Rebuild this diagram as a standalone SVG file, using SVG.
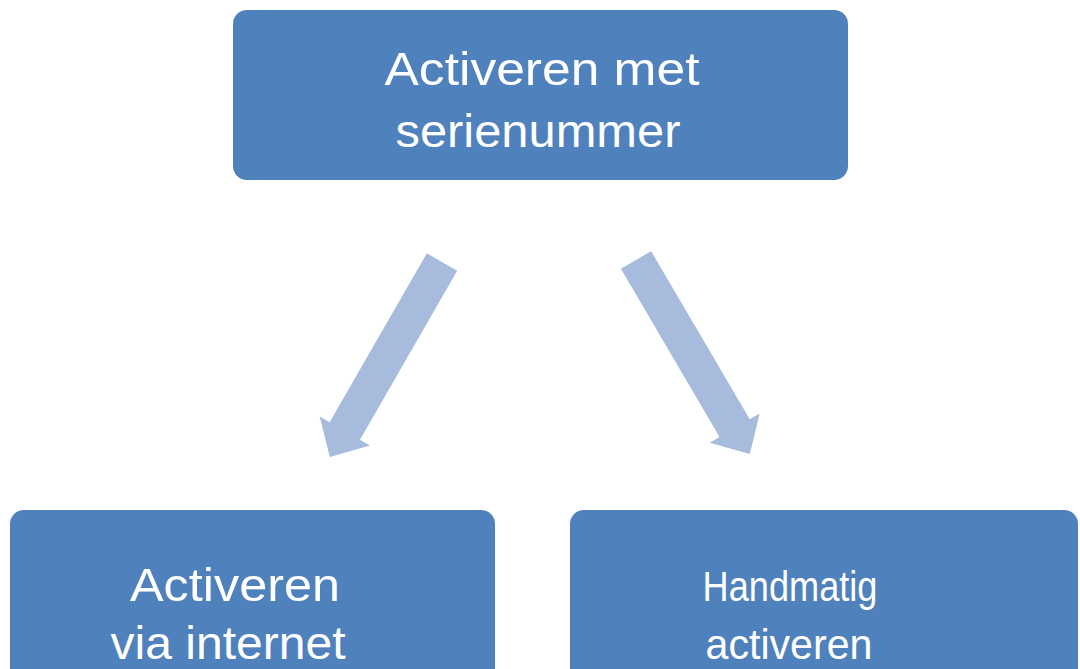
<svg xmlns="http://www.w3.org/2000/svg" width="1080" height="669" viewBox="0 0 1080 669">
  <defs>
    <style>
      .box { fill: #4f81bd; }
      .lbl { fill: #ffffff; font-family: "Liberation Sans", Arial, sans-serif; font-size: 46px; text-anchor: middle; }
      .sm { font-size: 42px; }
      .arrow { fill: #a7bcdd; }
    </style>
    <path id="blockArrow" d="M0,-17.5 L195,-17.5 L195,-29 L225,0 L195,29 L195,17.5 L0,17.5 Z"/>
  </defs>
  <rect width="1080" height="669" fill="#ffffff"/>
  <g id="connectors">
    <use href="#blockArrow" class="arrow" transform="translate(442,262) rotate(119.9)"/>
    <use href="#blockArrow" class="arrow" transform="translate(636,260) rotate(59.6)"/>
  </g>
  <g id="node-top">
    <rect class="box" x="233" y="10" width="615" height="170" rx="14"/>
    <text class="lbl" x="542" y="85" textLength="315" lengthAdjust="spacingAndGlyphs">Activeren met</text>
    <text class="lbl" x="538" y="147" textLength="285" lengthAdjust="spacingAndGlyphs">serienummer</text>
  </g>
  <g id="node-internet">
    <rect class="box" x="10" y="510" width="485" height="175" rx="14"/>
    <text class="lbl" x="235" y="601" textLength="210" lengthAdjust="spacingAndGlyphs">Activeren</text>
    <text class="lbl" x="228" y="659" textLength="235" lengthAdjust="spacingAndGlyphs">via internet</text>
  </g>
  <g id="node-handmatig">
    <rect class="box" x="570" y="510" width="508" height="175" rx="14"/>
    <text class="lbl sm" x="790" y="601" textLength="175" lengthAdjust="spacingAndGlyphs">Handmatig</text>
    <text class="lbl sm" x="789" y="659" textLength="167" lengthAdjust="spacingAndGlyphs">activeren</text>
  </g>
</svg>
